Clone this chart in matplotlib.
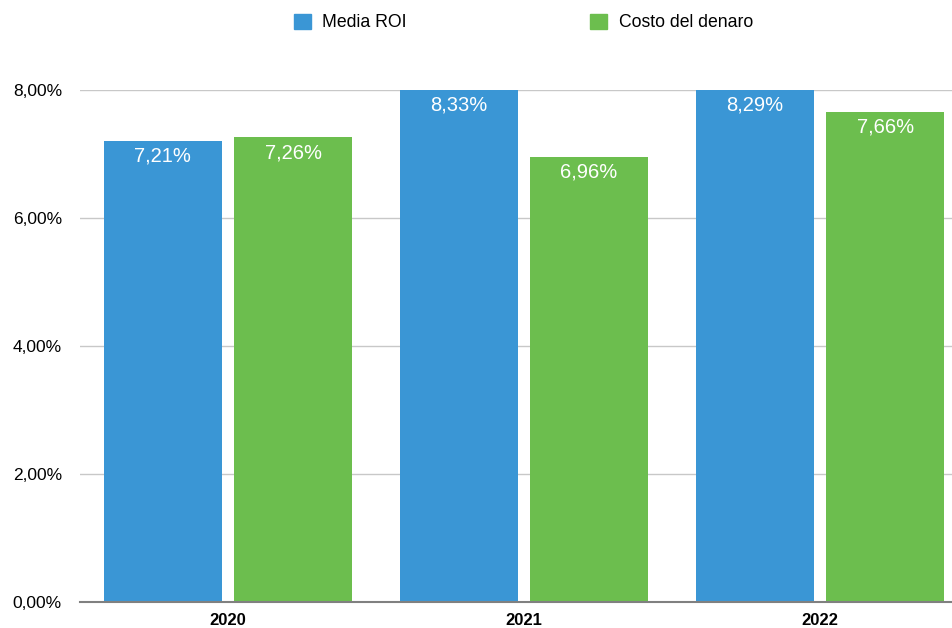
import numpy as np
import matplotlib.pyplot as plt
from matplotlib.patches import Patch

anni = ['2020', '2021', '2022']
media_roi = [7.21, 8.33, 8.29]
costo_denaro = [7.26, 6.96, 7.66]
yticks = [0, 2, 4, 6, 8]

blu = '#3A96D5'
verde = '#6CBE4E'

plt.rcParams['font.family'] = ['Liberation Sans', 'DejaVu Sans']

fig = plt.figure(figsize=(9.52, 6.28), dpi=100)
# axes runs a bit past the right edge, like the original
ax = fig.add_axes([80/952, 26/628, 888/952, 512/628])

x = np.arange(len(anni))
w = 0.399
off = 0.22
b1 = ax.bar(x - off, media_roi, w, color=blu, zorder=2)
b2 = ax.bar(x + off, costo_denaro, w, color=verde, zorder=2)

ax.set_xlim(-0.5, 2.5)
ax.set_ylim(0, 8)

def fmt(v):
    return ('%.2f%%' % v).replace('.', ',')

for bars, vals in [(b1, media_roi), (b2, costo_denaro)]:
    for r, v in zip(bars, vals):
        top = min(v, 8)
        ax.annotate(fmt(v), (r.get_x() + r.get_width()/2, top), xytext=(0, -11),
                    textcoords='offset points', ha='center', va='center',
                    color='white', fontsize=14.5, zorder=3)

ax.set_yticks(yticks)
ax.set_yticklabels([fmt(t) for t in yticks], fontsize=12.5)
ax.set_xticks(x)
ax.set_xticklabels(anni, fontsize=12, fontweight='bold')
ax.tick_params(axis='y', length=0, pad=13)
ax.tick_params(axis='x', length=0, pad=8)
ax.grid(axis='y', color='#c8c8c8', linewidth=1, zorder=0)
for s in ['top', 'right', 'left']:
    ax.spines[s].set_visible(False)
ax.spines['bottom'].set_color('#808080')
ax.spines['bottom'].set_linewidth(1.5)
ax.spines['bottom'].set_zorder(3)

handles = [Patch(color=blu, label='Media ROI'), Patch(color=verde, label='Costo del denaro')]
fig.legend(handles=handles, loc='center', bbox_to_anchor=(523.5/952, 1 - 22.5/628), ncol=2,
           frameon=False, fontsize=12.7, handlelength=0.97, handleheight=0.97,
           handletextpad=0.63, columnspacing=10.4, borderpad=0)

plt.savefig('out.png', dpi=100)
